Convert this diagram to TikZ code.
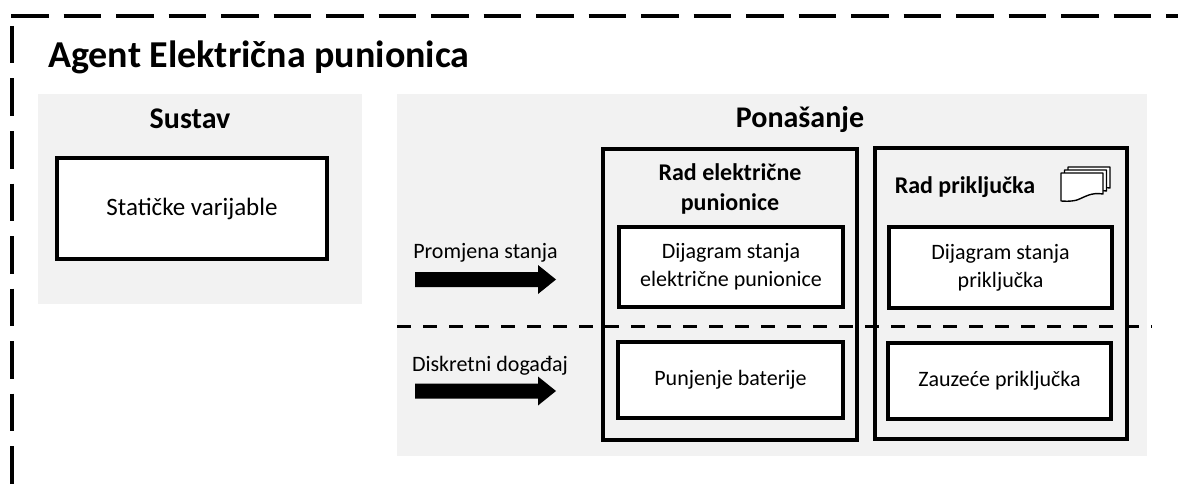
\documentclass[tikz,border=0pt]{standalone}
\usepackage{fontspec}
\setmainfont{Carlito}
\usetikzlibrary{calc}
\definecolor{panelgray}{HTML}{F2F2F2}
\begin{document}
\begin{tikzpicture}[x=1pt,y=-1pt]
\tikzset{
  panel/.style={fill=panelgray, draw=none, inner sep=0pt},
  frameline/.style={line width=4pt, dash pattern=on 37.5pt off 15pt},
  sepline/.style={line width=3pt, dash pattern=on 14pt off 12pt},
  outerbox/.style={draw=black, line width=3.2pt, inner sep=0pt},
  innerbox/.style={draw=black, line width=3.2pt, fill=white, inner sep=0pt, align=center,
                   font=\fontsize{22}{28}\selectfont},
  plaintext/.style={inner sep=0pt, anchor=base, font=\fontsize{22}{28}\selectfont},
  headtext/.style={inner sep=0pt, anchor=base, font=\bfseries\fontsize{30}{36}\selectfont},
  subhead/.style={inner sep=0pt, anchor=base, font=\bfseries\fontsize{24}{30}\selectfont, align=center},
  page/.style={draw=black, line width=1.4pt, fill=white, line join=round},
}
\useasboundingbox (0,0) rectangle (1178,487);
% outer dashed frame
\coordinate (fTL) at (11,16);
\coordinate (fTR) at (1178,16);
\coordinate (fLT) at (12,26);
\coordinate (fLB) at (12,487);
\draw[frameline] (fTL) -- (fTR);
\draw[frameline] (fLT) -- (fLB);
% title
\node[inner sep=0pt, anchor=base west, font=\bfseries\fontsize{38}{44}\selectfont] (title) at (48,67) {Agent Električna punionica};
% panels
\node[panel, minimum width=324pt, minimum height=210pt] (sustav) at (200,199) {};
\node[panel, minimum width=750pt, minimum height=362pt] (ponasanje) at (772,275) {};
\node[headtext] (sustavlbl) at (190,128) {Sustav};
\node[headtext] (ponasanjelbl) at (800,127) {Ponašanje};
% Sustav content
\node[innerbox, minimum width=270pt, minimum height=101pt, font=\fontsize{25}{30}\selectfont] (staticke) at (192,208.5) {Statičke varijable};
% outer boxes
\node[outerbox, minimum width=254pt, minimum height=291pt] (radep) at (730,294.5) {};
\node[outerbox, minimum width=252pt, minimum height=291pt] (radp) at (1001,293.5) {};
\node[subhead] (radeplbl) at (730,180) {Rad električne};
\node[subhead] (radeplbl2) at (730,210) {punionice};
\node[subhead] (radplbl) at (965,193) {Rad priključka};
% inner boxes
\node[innerbox, minimum width=224pt, minimum height=80pt] (dsep) at (731,267) {Dijagram stanja\\električne punionice};
\node[innerbox, minimum width=225pt, minimum height=76pt] (punjenje) at (730.5,380) {Punjenje baterije};
\node[innerbox, minimum width=223pt, minimum height=81pt] (dsp) at (1000.5,267.5) {Dijagram stanja\\priključka};
\node[innerbox, minimum width=223pt, minimum height=76pt] (zauzece) at (999.5,381) {Zauzeće priključka};
% separator
\coordinate (sepL) at (397,326);
\coordinate (sepR) at (1152,326);
\draw[sepline] (sepL) -- (sepR);
% arrows with labels
\node[plaintext] (promjena) at (485.5,258) {Promjena stanja};
\node[plaintext] (diskretni) at (490,371) {Diskretni događaj};
\coordinate (a1) at (415,279.5);
\coordinate (a2) at (415,391);
\foreach \c in {a1,a2}{
  \fill[black] (\c) ++(0,-7.5) -- ++(123,0) -- ++(0,-7) -- ++(18,14.5) -- ++(-18,14.5) -- ++(0,-7) -- ++(-123,0) -- cycle;
}
% document icon
\foreach \dx/\dy in {1068/167,1064.5/170,1061/173}{
  \begin{scope}[shift={(\dx,\dy)}]
    \draw[page] (0,0) -- (42,0) -- (42,21)
       .. controls (30,19) and (24,24) .. (16,27)
       .. controls (8,29) and (3,28) .. (0,28) -- cycle;
  \end{scope}
}
\end{tikzpicture}
\end{document}
